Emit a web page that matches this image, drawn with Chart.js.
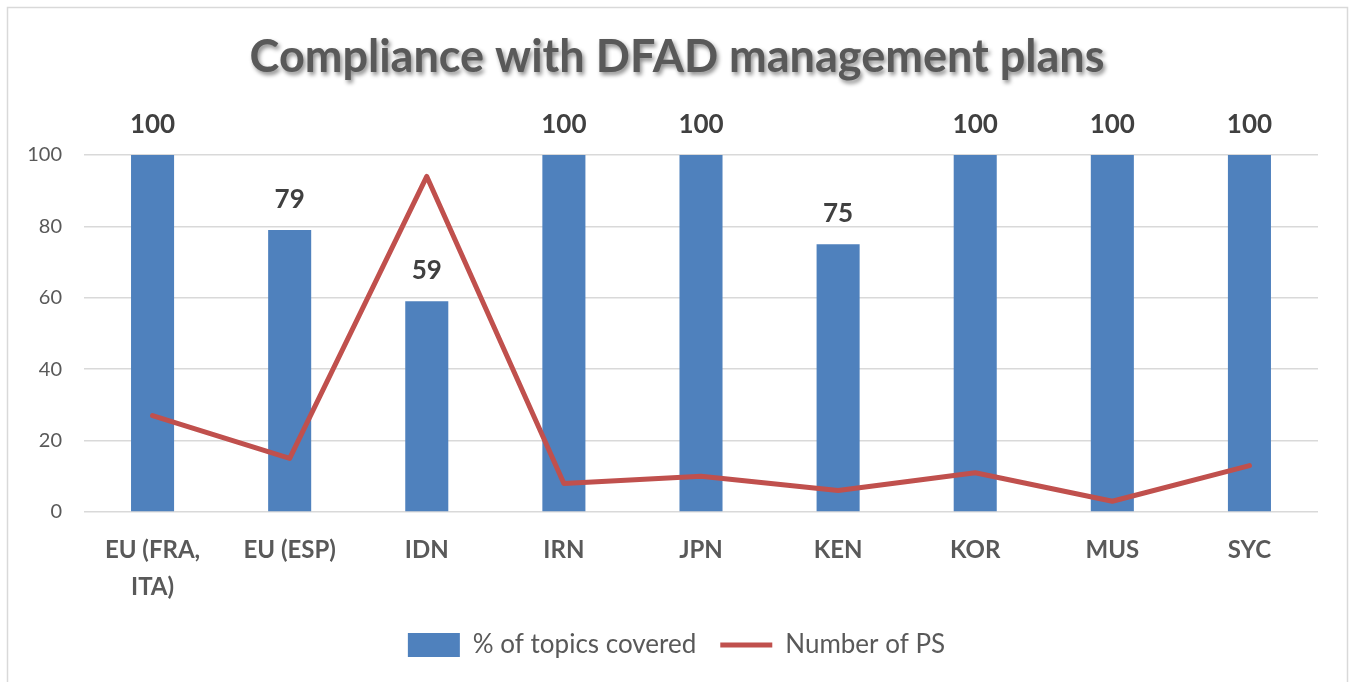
<!DOCTYPE html>
<html>
<head>
<meta charset="utf-8">
<script src="https://cdn.jsdelivr.net/npm/chart.js@4.4.1/dist/chart.umd.min.js"></script>
<style>
  html, body { margin: 0; padding: 0; background: #fff; }
  #wrap { width: 1353px; height: 682px; }
</style>
</head>
<body>
<div id="wrap"><canvas id="chart" width="1353" height="682"></canvas></div>
<script>
const chartTitle = 'Compliance with DFAD management plans';
const categories = [['EU (FRA,', 'ITA)'], 'EU (ESP)', 'IDN', 'IRN', 'JPN', 'KEN', 'KOR', 'MUS', 'SYC'];
const topicsCovered = [100, 79, 59, 100, 100, 75, 100, 100, 100];
const numberOfPS = [27, 15, 94, 8, 10, 6, 11, 3, 13];
const yTicks = { min: 0, max: 100, step: 20 };

const FONT = 'Lato';

// outer frame + shadowed title
const frameAndTitle = {
    id: 'frameAndTitle',
    beforeDraw: (chart) => {
        const ctx = chart.ctx;
        ctx.save();
        ctx.fillStyle = '#fff';
        ctx.fillRect(0, 0, chart.width, chart.height);
        ctx.strokeStyle = '#D9D9D9';
        ctx.lineWidth = 1.5;
        ctx.strokeRect(7.5, 7.5, chart.width - 13, chart.height + 10);
        ctx.restore();
    },
    afterDraw: (chart) => {
        const ctx = chart.ctx;
        ctx.save();
        ctx.font = 'bold 45px ' + FONT;
        ctx.textAlign = 'center';
        ctx.textBaseline = 'alphabetic';
        ctx.shadowColor = 'rgba(0,0,0,0.45)';
        ctx.shadowOffsetX = 2;
        ctx.shadowOffsetY = 3;
        ctx.shadowBlur = 4;
        ctx.fillStyle = '#595959';
        ctx.fillText(chartTitle, 677, 72);
        ctx.restore();
    }
};

// value labels above bars
const barLabels = {
    id: 'barLabels',
    afterDatasetsDraw: (chart) => {
        const ctx = chart.ctx;
        const meta = chart.getDatasetMeta(0);
        ctx.save();
        ctx.font = 'bold 26px ' + FONT;
        ctx.fillStyle = '#404040';
        ctx.textAlign = 'center';
        ctx.textBaseline = 'alphabetic';
        meta.data.forEach((bar, i) => {
            ctx.fillText(String(topicsCovered[i]), bar.x, bar.y - 22);
        });
        ctx.restore();
    }
};

new Chart(document.getElementById('chart'), {
    type: 'bar',
    data: {
        labels: categories,
        datasets: [
            {
                type: 'bar',
                label: '% of topics covered',
                data: topicsCovered,
                backgroundColor: '#4F81BD',
                borderWidth: 0,
                barPercentage: 0.314,
                categoryPercentage: 1,
                order: 1
            },
            {
                type: 'line',
                label: 'Number of PS',
                data: numberOfPS,
                borderColor: '#C0504D',
                backgroundColor: '#C0504D',
                borderWidth: 5,
                borderCapStyle: 'round',
                borderJoinStyle: 'round',
                pointRadius: 0,
                tension: 0,
                order: 0
            }
        ]
    },
    options: {
        responsive: false,
        animation: false,
        layout: { padding: { top: 155, left: 0, right: 0, bottom: 14 } },
        scales: {
            x: {
                grid: { display: false },
                border: { display: false },
                ticks: {
                    color: '#595959',
                    padding: 12,
                    maxRotation: 0,
                    autoSkip: false,
                    font: { family: FONT, size: 24, weight: 'bold', lineHeight: 1.54 }
                },
                afterFit: (s) => { s.height = 96; }
            },
            y: {
                min: yTicks.min,
                max: yTicks.max,
                grid: { color: '#D9D9D9', lineWidth: 1.5, drawTicks: false },
                border: { display: false },
                ticks: {
                    stepSize: yTicks.step,
                    color: '#595959',
                    padding: 22,
                    font: { family: FONT, size: 20 }
                },
                afterFit: (s) => { s.width = 84; }
            },
            // empty right-hand spacer so the plot ends where the reference does
            yRight: {
                position: 'right',
                min: yTicks.min,
                max: yTicks.max,
                grid: { display: false },
                border: { display: false },
                ticks: { display: false },
                afterFit: (s) => { s.width = 35; }
            }
        },
        plugins: {
            title: { display: false },
            tooltip: { enabled: false },
            legend: {
                position: 'bottom',
                labels: {
                    usePointStyle: true,
                    pointStyleWidth: 52,
                    boxHeight: 24,
                    padding: 24,
                    color: '#595959',
                    font: { family: FONT, size: 26 },
                    sort: (a, b) => a.datasetIndex - b.datasetIndex,
                    generateLabels: (chart) => {
                        const items = Chart.defaults.plugins.legend.labels.generateLabels(chart);
                        items.forEach((it) => {
                            it.pointStyle = chart.data.datasets[it.datasetIndex].type === 'line' ? 'line' : 'rect';
                        });
                        return items;
                    }
                }
            }
        }
    },
    plugins: [frameAndTitle, barLabels]
});
</script>
</body>
</html>
